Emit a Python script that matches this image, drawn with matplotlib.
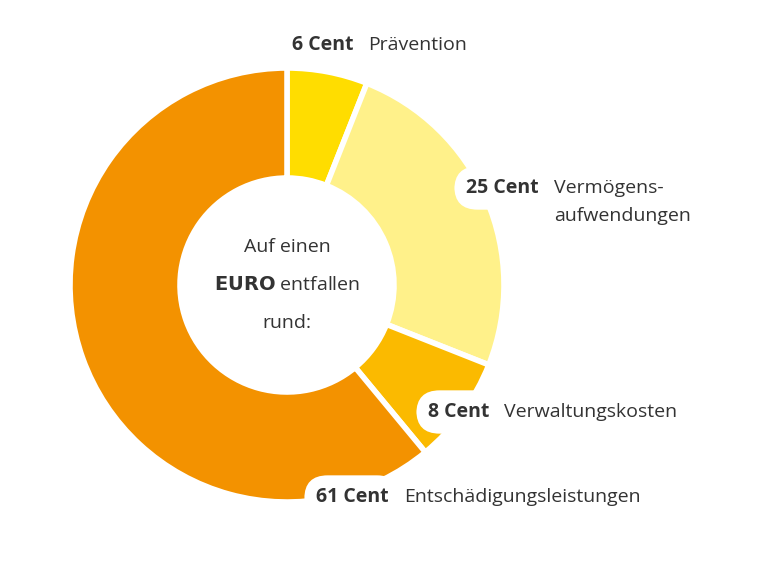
import matplotlib.pyplot as plt

plt.rcParams['font.family'] = ['Open Sans', 'DejaVu Sans']

cents = [6, 25, 8, 61]
names = ['Prävention', 'Vermögens-\naufwendungen', 'Verwaltungskosten', 'Entschädigungsleistungen']
colors = ['#FFDD00', '#FFF18A', '#FBBA00', '#F39200']
# label anchor (x, y) in pixel-like coords, y up
label_pos = [(292, 532), (466, 389), (428, 165), (316, 80)]

fig = plt.figure(figsize=(7.68, 5.77), dpi=100)
ax = fig.add_axes([0, 0, 1, 1])
ax.set_xlim(0, 768)
ax.set_ylim(0, 577)
ax.set_aspect('equal')
ax.axis('off')

ax.pie(cents, colors=colors, startangle=90, counterclock=False,
       center=(287, 292), radius=217,
       wedgeprops=dict(width=110, edgecolor='white', linewidth=4))

ax.set_xlim(0, 768)
ax.set_ylim(0, 577)

box = dict(boxstyle='round,pad=0.6,rounding_size=1.2', facecolor='white', edgecolor='none')
for c, n, (x, y) in zip(cents, names, label_pos):
    t = ax.text(x, y, f'{c} Cent', fontsize=14, fontweight='bold', color='#333333',
                ha='left', va='center', bbox=box)
    lines = n.split('\n')
    ax.text(x + (76 if c < 10 else 88), y, lines[0], fontsize=14, color='#333333',
            ha='left', va='center')
    if len(lines) > 1:
        ax.text(x + 88, y - 28, lines[1], fontsize=14, color='#333333',
                ha='left', va='center')

ax.text(287, 330, 'Auf einen', fontsize=14, color='#333333', ha='center', va='center')
ax.text(287, 292, r'$\bf{EURO}$ entfallen', fontsize=14, color='#333333', ha='center', va='center')
ax.text(287, 254, 'rund:', fontsize=14, color='#333333', ha='center', va='center')

fig.savefig('out.png', dpi=100)
